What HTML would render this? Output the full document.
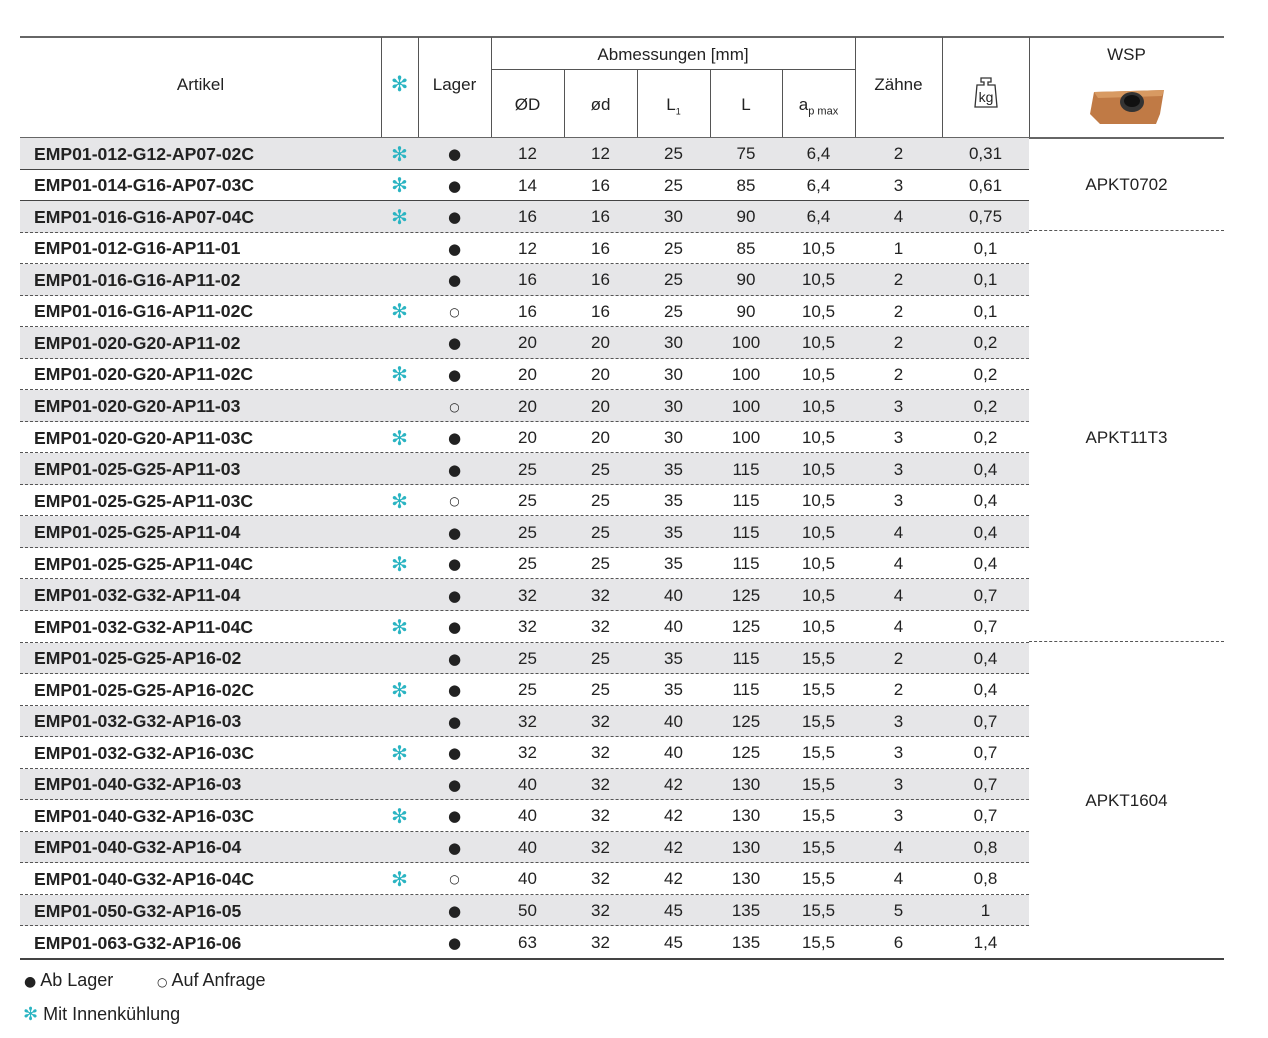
<!DOCTYPE html>
<html><head><meta charset="utf-8"><style>
body{margin:0;width:1268px;height:1038px;background:#fff;position:relative;font-family:"Liberation Sans","DejaVu Sans",sans-serif;color:#222;overflow:hidden}
.a{position:absolute}
.hl{position:absolute;background:#555;height:1px}
.vl{position:absolute;background:#555;width:1px}
.ht{position:absolute;font-size:17px;text-align:center;line-height:20px}
#rows{position:absolute;left:20px;top:138px;width:1009px}
.r{display:flex;height:31.54px;box-sizing:border-box;border-bottom:1px dashed #555;font-size:17px;align-items:center;padding-top:2px}
.r.g{background:#e6e6e8}
.r.s{border-bottom:1px solid #444}
.r div{text-align:center;flex:none}
.c0{width:361px;text-align:left!important;padding-left:14px;box-sizing:border-box;font-weight:bold;font-size:17.6px}
.c1{width:37px;color:#2ab4c2;font-size:20px}
.c2{width:73px;font-size:15px;font-family:"DejaVu Sans",sans-serif}
.c2.o{font-size:12px}
.c3,.c4,.c5{width:73px}.c6{width:72px}.c7{width:73px}.c8,.c9{width:87px}
.sf{color:#2ab4c2}
</style></head><body>
<div class="hl" style="left:20px;top:36px;width:1204px;height:1.5px;background:#666"></div>
<div class="hl" style="left:491px;top:69px;width:364px"></div>
<div class="hl" style="left:20px;top:137px;width:1204px;height:1.5px;background:#666"></div>
<div class="vl" style="left:381px;top:37px;height:100px"></div>
<div class="vl" style="left:418px;top:37px;height:100px"></div>
<div class="vl" style="left:491px;top:37px;height:100px"></div>
<div class="vl" style="left:564px;top:69px;height:68px"></div>
<div class="vl" style="left:637px;top:69px;height:68px"></div>
<div class="vl" style="left:710px;top:69px;height:68px"></div>
<div class="vl" style="left:782px;top:69px;height:68px"></div>
<div class="vl" style="left:855px;top:37px;height:100px"></div>
<div class="vl" style="left:942px;top:37px;height:100px"></div>
<div class="vl" style="left:1029px;top:37px;height:100px"></div>
<div class="ht" style="left:20px;width:361px;top:75px">Artikel</div>
<div class="ht" style="left:381px;width:37px;top:75px;color:#2ab4c2;font-size:21px">✻</div>
<div class="ht" style="left:418px;width:73px;top:75px">Lager</div>
<div class="ht" style="left:491px;width:364px;top:45px">Abmessungen [mm]</div>
<div class="ht" style="left:491px;width:73px;top:95px">ØD</div>
<div class="ht" style="left:564px;width:73px;top:95px">ød</div>
<div class="ht" style="left:637px;width:73px;top:95px">L<sub style="font-size:9px">1</sub></div>
<div class="ht" style="left:710px;width:72px;top:95px">L</div>
<div class="ht" style="left:782px;width:73px;top:95px">a<sub style="font-size:11px">p max</sub></div>
<div class="ht" style="left:855px;width:87px;top:75px">Zähne</div>
<div class="a" style="left:973px;top:76px;width:26px;height:34px">
<svg width="26" height="34" viewBox="0 0 26 34"><path d="M8 2h10v4h-3v3h7l2 22H2L4 9h7V6H8z" fill="none" stroke="#333" stroke-width="1.3"/><text x="13" y="26" font-size="14" text-anchor="middle" font-family="Liberation Sans" fill="#222">kg</text></svg></div>
<div class="ht" style="left:1029px;width:195px;top:45px">WSP</div>
<div class="a" style="left:1088px;top:84px">
<svg width="80" height="42" viewBox="0 0 80 42"><path d="M6 8L76 6L72 30L68 40L12 40L2 30Z" fill="#c07a45"/><path d="M6 8L76 6L74 12L10 14Z" fill="#d89a62"/><ellipse cx="44" cy="18" rx="12" ry="10" fill="#333"/><ellipse cx="44" cy="17" rx="8" ry="6" fill="#111"/></svg></div>
<div id="rows">
<div class="r g s"><div class="c0">EMP01-012-G12-AP07-02C</div><div class="c1">✻</div><div class="c2">●</div><div class="c3">12</div><div class="c4">12</div><div class="c5">25</div><div class="c6">75</div><div class="c7">6,4</div><div class="c8">2</div><div class="c9">0,31</div></div>
<div class="r s"><div class="c0">EMP01-014-G16-AP07-03C</div><div class="c1">✻</div><div class="c2">●</div><div class="c3">14</div><div class="c4">16</div><div class="c5">25</div><div class="c6">85</div><div class="c7">6,4</div><div class="c8">3</div><div class="c9">0,61</div></div>
<div class="r g"><div class="c0">EMP01-016-G16-AP07-04C</div><div class="c1">✻</div><div class="c2">●</div><div class="c3">16</div><div class="c4">16</div><div class="c5">30</div><div class="c6">90</div><div class="c7">6,4</div><div class="c8">4</div><div class="c9">0,75</div></div>
<div class="r"><div class="c0">EMP01-012-G16-AP11-01</div><div class="c1"></div><div class="c2">●</div><div class="c3">12</div><div class="c4">16</div><div class="c5">25</div><div class="c6">85</div><div class="c7">10,5</div><div class="c8">1</div><div class="c9">0,1</div></div>
<div class="r g"><div class="c0">EMP01-016-G16-AP11-02</div><div class="c1"></div><div class="c2">●</div><div class="c3">16</div><div class="c4">16</div><div class="c5">25</div><div class="c6">90</div><div class="c7">10,5</div><div class="c8">2</div><div class="c9">0,1</div></div>
<div class="r"><div class="c0">EMP01-016-G16-AP11-02C</div><div class="c1">✻</div><div class="c2 o">○</div><div class="c3">16</div><div class="c4">16</div><div class="c5">25</div><div class="c6">90</div><div class="c7">10,5</div><div class="c8">2</div><div class="c9">0,1</div></div>
<div class="r g"><div class="c0">EMP01-020-G20-AP11-02</div><div class="c1"></div><div class="c2">●</div><div class="c3">20</div><div class="c4">20</div><div class="c5">30</div><div class="c6">100</div><div class="c7">10,5</div><div class="c8">2</div><div class="c9">0,2</div></div>
<div class="r"><div class="c0">EMP01-020-G20-AP11-02C</div><div class="c1">✻</div><div class="c2">●</div><div class="c3">20</div><div class="c4">20</div><div class="c5">30</div><div class="c6">100</div><div class="c7">10,5</div><div class="c8">2</div><div class="c9">0,2</div></div>
<div class="r g"><div class="c0">EMP01-020-G20-AP11-03</div><div class="c1"></div><div class="c2 o">○</div><div class="c3">20</div><div class="c4">20</div><div class="c5">30</div><div class="c6">100</div><div class="c7">10,5</div><div class="c8">3</div><div class="c9">0,2</div></div>
<div class="r"><div class="c0">EMP01-020-G20-AP11-03C</div><div class="c1">✻</div><div class="c2">●</div><div class="c3">20</div><div class="c4">20</div><div class="c5">30</div><div class="c6">100</div><div class="c7">10,5</div><div class="c8">3</div><div class="c9">0,2</div></div>
<div class="r g"><div class="c0">EMP01-025-G25-AP11-03</div><div class="c1"></div><div class="c2">●</div><div class="c3">25</div><div class="c4">25</div><div class="c5">35</div><div class="c6">115</div><div class="c7">10,5</div><div class="c8">3</div><div class="c9">0,4</div></div>
<div class="r"><div class="c0">EMP01-025-G25-AP11-03C</div><div class="c1">✻</div><div class="c2 o">○</div><div class="c3">25</div><div class="c4">25</div><div class="c5">35</div><div class="c6">115</div><div class="c7">10,5</div><div class="c8">3</div><div class="c9">0,4</div></div>
<div class="r g"><div class="c0">EMP01-025-G25-AP11-04</div><div class="c1"></div><div class="c2">●</div><div class="c3">25</div><div class="c4">25</div><div class="c5">35</div><div class="c6">115</div><div class="c7">10,5</div><div class="c8">4</div><div class="c9">0,4</div></div>
<div class="r"><div class="c0">EMP01-025-G25-AP11-04C</div><div class="c1">✻</div><div class="c2">●</div><div class="c3">25</div><div class="c4">25</div><div class="c5">35</div><div class="c6">115</div><div class="c7">10,5</div><div class="c8">4</div><div class="c9">0,4</div></div>
<div class="r g"><div class="c0">EMP01-032-G32-AP11-04</div><div class="c1"></div><div class="c2">●</div><div class="c3">32</div><div class="c4">32</div><div class="c5">40</div><div class="c6">125</div><div class="c7">10,5</div><div class="c8">4</div><div class="c9">0,7</div></div>
<div class="r"><div class="c0">EMP01-032-G32-AP11-04C</div><div class="c1">✻</div><div class="c2">●</div><div class="c3">32</div><div class="c4">32</div><div class="c5">40</div><div class="c6">125</div><div class="c7">10,5</div><div class="c8">4</div><div class="c9">0,7</div></div>
<div class="r g"><div class="c0">EMP01-025-G25-AP16-02</div><div class="c1"></div><div class="c2">●</div><div class="c3">25</div><div class="c4">25</div><div class="c5">35</div><div class="c6">115</div><div class="c7">15,5</div><div class="c8">2</div><div class="c9">0,4</div></div>
<div class="r"><div class="c0">EMP01-025-G25-AP16-02C</div><div class="c1">✻</div><div class="c2">●</div><div class="c3">25</div><div class="c4">25</div><div class="c5">35</div><div class="c6">115</div><div class="c7">15,5</div><div class="c8">2</div><div class="c9">0,4</div></div>
<div class="r g"><div class="c0">EMP01-032-G32-AP16-03</div><div class="c1"></div><div class="c2">●</div><div class="c3">32</div><div class="c4">32</div><div class="c5">40</div><div class="c6">125</div><div class="c7">15,5</div><div class="c8">3</div><div class="c9">0,7</div></div>
<div class="r"><div class="c0">EMP01-032-G32-AP16-03C</div><div class="c1">✻</div><div class="c2">●</div><div class="c3">32</div><div class="c4">32</div><div class="c5">40</div><div class="c6">125</div><div class="c7">15,5</div><div class="c8">3</div><div class="c9">0,7</div></div>
<div class="r g"><div class="c0">EMP01-040-G32-AP16-03</div><div class="c1"></div><div class="c2">●</div><div class="c3">40</div><div class="c4">32</div><div class="c5">42</div><div class="c6">130</div><div class="c7">15,5</div><div class="c8">3</div><div class="c9">0,7</div></div>
<div class="r"><div class="c0">EMP01-040-G32-AP16-03C</div><div class="c1">✻</div><div class="c2">●</div><div class="c3">40</div><div class="c4">32</div><div class="c5">42</div><div class="c6">130</div><div class="c7">15,5</div><div class="c8">3</div><div class="c9">0,7</div></div>
<div class="r g"><div class="c0">EMP01-040-G32-AP16-04</div><div class="c1"></div><div class="c2">●</div><div class="c3">40</div><div class="c4">32</div><div class="c5">42</div><div class="c6">130</div><div class="c7">15,5</div><div class="c8">4</div><div class="c9">0,8</div></div>
<div class="r"><div class="c0">EMP01-040-G32-AP16-04C</div><div class="c1">✻</div><div class="c2 o">○</div><div class="c3">40</div><div class="c4">32</div><div class="c5">42</div><div class="c6">130</div><div class="c7">15,5</div><div class="c8">4</div><div class="c9">0,8</div></div>
<div class="r g"><div class="c0">EMP01-050-G32-AP16-05</div><div class="c1"></div><div class="c2">●</div><div class="c3">50</div><div class="c4">32</div><div class="c5">45</div><div class="c6">135</div><div class="c7">15,5</div><div class="c8">5</div><div class="c9">1</div></div>
<div class="r" style="border-bottom:none"><div class="c0">EMP01-063-G32-AP16-06</div><div class="c1"></div><div class="c2">●</div><div class="c3">63</div><div class="c4">32</div><div class="c5">45</div><div class="c6">135</div><div class="c7">15,5</div><div class="c8">6</div><div class="c9">1,4</div></div>
</div>
<div class="a" style="left:1029px;top:230px;width:195px;border-top:1px dashed #555"></div>
<div class="a" style="left:1029px;top:641px;width:195px;border-top:1px dashed #555"></div>
<div class="hl" style="left:20px;top:958px;width:1204px;height:1.5px;background:#444"></div>
<div class="ht" style="left:1029px;width:195px;top:175px">APKT0702</div>
<div class="ht" style="left:1029px;width:195px;top:428px">APKT11T3</div>
<div class="ht" style="left:1029px;width:195px;top:791px">APKT1604</div>
<div class="a" style="left:24px;top:970px;font-size:18px"><span style="font-size:14px;font-family:'DejaVu Sans'">●</span> Ab Lager</div>
<div class="a" style="left:157px;top:970px;font-size:18px"><span style="font-size:12px;font-family:'DejaVu Sans'">○</span> Auf Anfrage</div>
<div class="a" style="left:23px;top:1004px;font-size:18px"><span class="sf">✻</span> Mit Innenkühlung</div>
</body></html>
